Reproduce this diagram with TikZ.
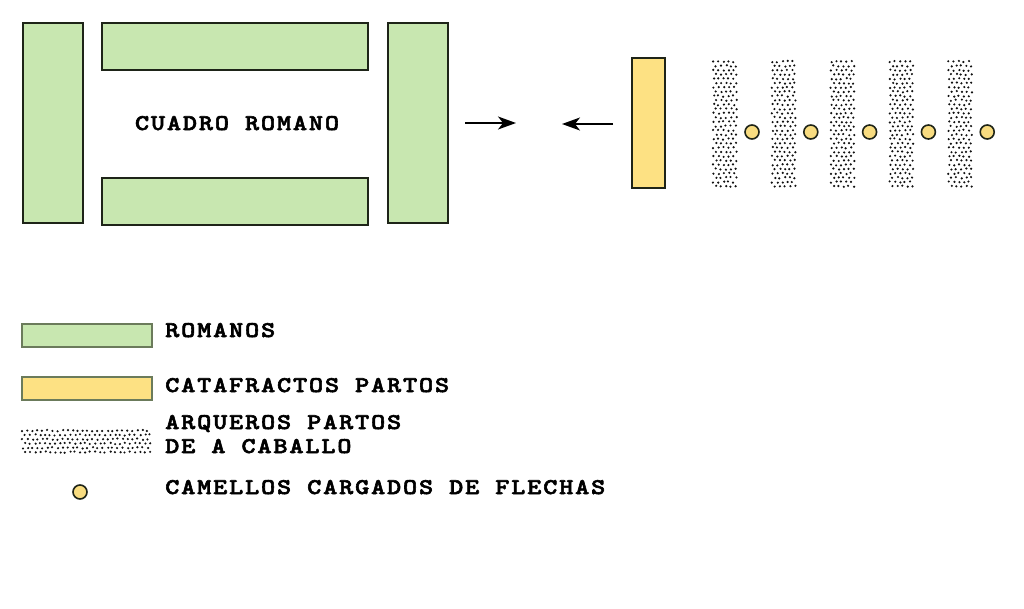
\documentclass[tikz,border=0pt]{standalone}
\usepackage{fontspec}
\usetikzlibrary{arrows.meta}
\newfontfamily\labfont{lmmonolt10-bold}[Extension=.otf, FakeStretch=1.2, LetterSpace=8, FakeBold=2.5]
\definecolor{romgreen}{HTML}{C8E7B0}
\definecolor{partyel}{HTML}{FDE183}
\definecolor{camyel}{HTML}{F8DC80}
\definecolor{edgedark}{HTML}{1E2418}
\definecolor{legedge}{HTML}{6B7B5B}
\definecolor{dotc}{HTML}{111111}
\newcommand\dotfield[4]{%
  \pgfmathtruncatemacro\nx{(#3-#1-4)/5}%
  \pgfmathtruncatemacro\ny{(#4-#2-2)/4.3}%
  \foreach \i in {0,...,\nx}{%
    \foreach \j in {0,...,\ny}{%
      \pgfmathsetmacro\px{#1+1.6+\i*5+mod(\j,2)*2.5+rand*0.7}%
      \pgfmathsetmacro\py{#2+1.6+\j*4.3+rand*0.7}%
      \fill[dotc] (\px,\py) circle (1.2);
    }%
  }%
}
\tikzset{
  roman/.style={draw=edgedark, fill=romgreen, line width=1.8pt, inner sep=0pt, anchor=north west},
  legroman/.style={draw=legedge, fill=romgreen, line width=1.5pt, inner sep=0pt, anchor=north west},
  cataf/.style={draw=edgedark, fill=partyel, line width=1.8pt, inner sep=0pt, anchor=north west},
  legcataf/.style={draw=legedge, fill=partyel, line width=1.5pt, inner sep=0pt, anchor=north west},
  camel/.style={circle, draw=edgedark, fill=camyel, line width=1.6pt, minimum size=14pt, inner sep=0pt},
  lab/.style={font=\labfont\fontsize{22.5}{25}\selectfont, inner sep=0pt, anchor=base west, text=black},
  move/.style={line width=1.4pt, -{Stealth[length=18pt,width=13pt,inset=5pt]}},
}
\begin{document}
\begin{tikzpicture}[x=1pt,y=-1pt]
\useasboundingbox (0,0) rectangle (1024,608);
\fill[white] (0,0) rectangle (1024,608);
\pgfmathsetseed{4321}
% Roman square
\node[roman, minimum width=60pt, minimum height=200pt] (rl) at (22,22) {};
\node[roman, minimum width=266pt, minimum height=47pt] (rt) at (101,22) {};
\node[roman, minimum width=266pt, minimum height=47pt] (rb) at (101,177) {};
\node[roman, minimum width=60pt, minimum height=200pt] (rr) at (387,22) {};
\node[lab, anchor=base] (cr) at (237,130) {CUADRO ROMANO};
% arrows
\coordinate (a1s) at (465,123);
\coordinate (a1e) at (516,123);
\coordinate (a2s) at (613,124);
\coordinate (a2e) at (562,124);
\draw[move] (a1s) -- (a1e);
\draw[move] (a2s) -- (a2e);
% Parthians
\node[cataf, minimum width=33pt, minimum height=130pt] (cat) at (631,57) {};
\foreach \k in {0,...,4}{
  \pgfmathsetmacro\sx{712+\k*58.8}
  \dotfield{\sx}{60}{\sx+26}{187}
  \node[camel] (cm\k) at (\sx+40,132) {};
}
% Legend
\node[legroman, minimum width=130pt, minimum height=23pt] (lg1) at (21,323) {};
\node[lab] (t1) at (165,337) {ROMANOS};
\node[legcataf, minimum width=130pt, minimum height=23pt] (lg2) at (21,376) {};
\node[lab] (t2) at (165,392) {CATAFRACTOS PARTOS};
\dotfield{21}{429}{151}{453}
\node[lab] (t3) at (165,429) {ARQUEROS PARTOS};
\node[lab] (t4) at (165,453) {DE A CABALLO};
\node[camel, minimum size=14pt] (lg4) at (80,492) {};
\node[lab] (t5) at (165,494) {CAMELLOS CARGADOS DE FLECHAS};
\end{tikzpicture}
\end{document}
